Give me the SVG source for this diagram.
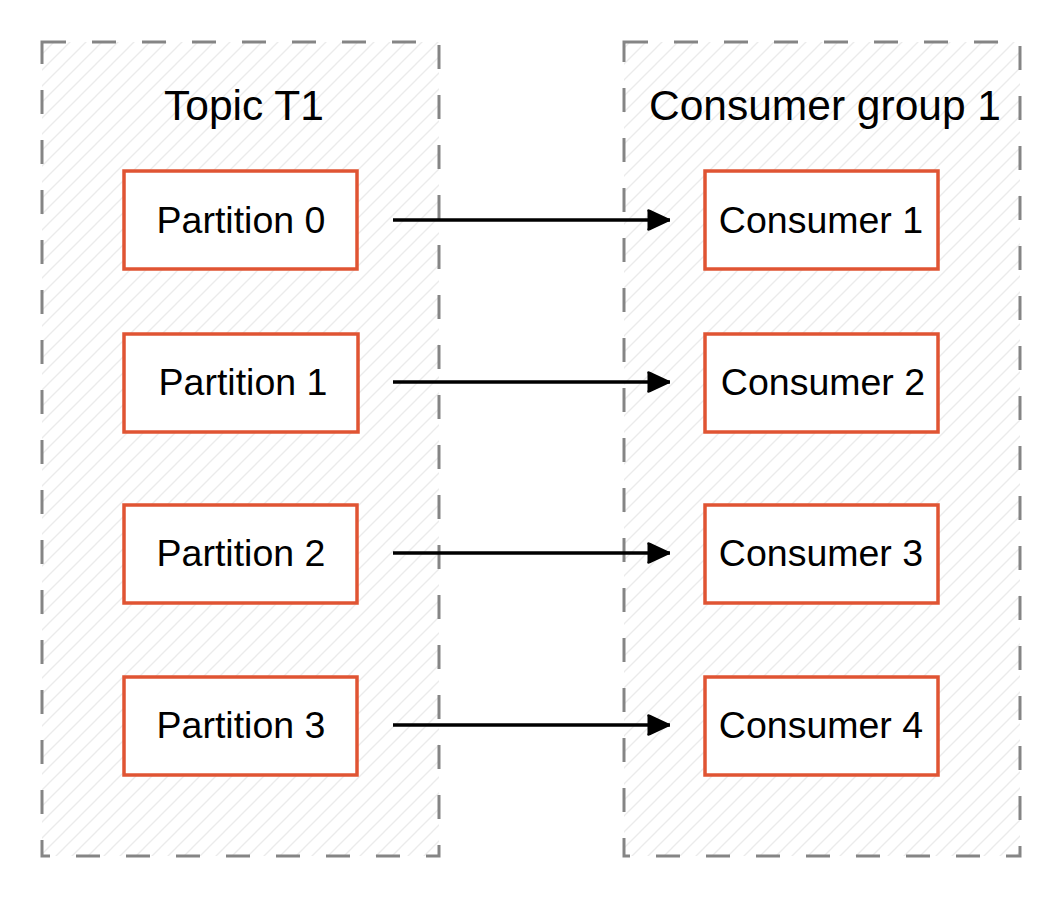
<svg xmlns="http://www.w3.org/2000/svg" width="1064" height="900" viewBox="0 0 1064 900">
<style>
.container{fill:url(#hatch);stroke:#858585;stroke-width:3;stroke-dasharray:24 26}
.node rect{fill:#ffffff;stroke:#e05433;stroke-width:3.5}
.label{font-family:"Liberation Sans",Arial,sans-serif;font-size:37.5px;fill:#000;text-anchor:middle}
.title{font-family:"Liberation Sans",Arial,sans-serif;font-size:42.5px;fill:#000;text-anchor:middle}
.edge{stroke:#000;stroke-width:3.5;fill:none;marker-end:url(#arrow)}
</style>
<defs>
<pattern id="hatch" patternUnits="userSpaceOnUse" width="16" height="16">
<rect width="16" height="16" fill="#ffffff"/>
<path d="M-2,18 L18,-2 M-2,2 L2,-2 M14,18 L18,14" stroke="#ebebeb" stroke-width="1.3"/>
</pattern>
<marker id="arrow" viewBox="0 0 10 10" refX="10" refY="5" markerWidth="25" markerHeight="23" markerUnits="userSpaceOnUse" orient="auto" overflow="visible" preserveAspectRatio="none">
<path d="M1,1.5 Q0.5,0 2,0.5 L9.5,4.3 Q10.3,5 9.5,5.7 L2,9.5 Q0.5,10 1,8.5 Z" fill="#000"/>
</marker>
</defs>
<g id="topic">
<rect class="container" x="42" y="42" width="397" height="814"/>
<text class="title" x="244" y="120">Topic T1</text>
</g>
<g id="group">
<rect class="container" x="624" y="42" width="396" height="814"/>
<text class="title" x="825" y="120">Consumer group 1</text>
</g>
<g id="connectors">
<path class="edge" d="M393,220 L670,220"/>
<path class="edge" d="M393,382 L670,382"/>
<path class="edge" d="M393,553 L670,553"/>
<path class="edge" d="M393,725 L670,725"/>
</g>
<g id="p0" class="node"><rect x="124" y="171" width="233" height="98"/><text class="label" x="241" y="233">Partition 0</text></g>
<g id="p1" class="node"><rect x="124" y="334" width="234" height="98"/><text class="label" x="243" y="395">Partition 1</text></g>
<g id="p2" class="node"><rect x="124" y="505" width="233" height="98"/><text class="label" x="241" y="566">Partition 2</text></g>
<g id="p3" class="node"><rect x="124" y="677" width="233" height="98"/><text class="label" x="241" y="738">Partition 3</text></g>
<g id="c1" class="node"><rect x="705" y="171" width="233" height="98"/><text class="label" x="821" y="233">Consumer 1</text></g>
<g id="c2" class="node"><rect x="705" y="334" width="233" height="98"/><text class="label" x="823" y="395">Consumer 2</text></g>
<g id="c3" class="node"><rect x="705" y="505" width="233" height="98"/><text class="label" x="821" y="566">Consumer 3</text></g>
<g id="c4" class="node"><rect x="705" y="677" width="233" height="98"/><text class="label" x="821" y="738">Consumer 4</text></g>
</svg>
